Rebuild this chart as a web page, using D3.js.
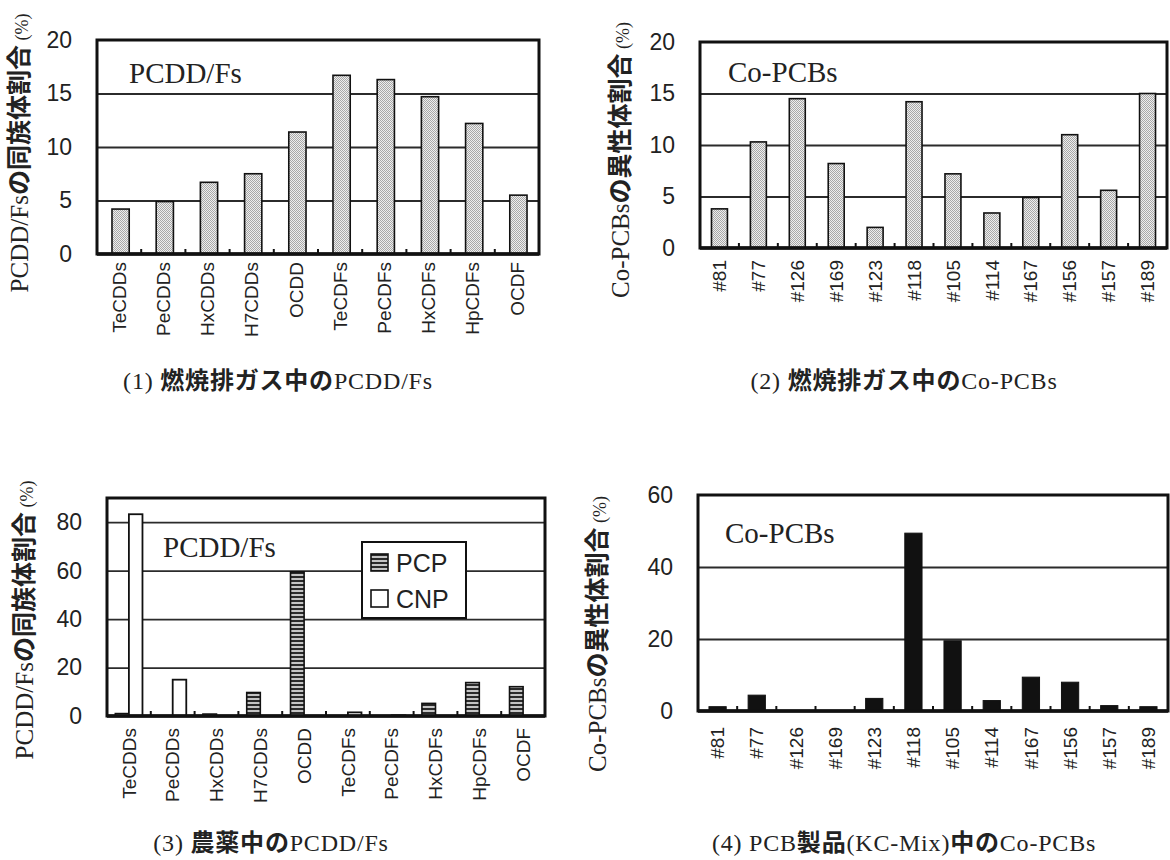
<!DOCTYPE html>
<html>
<head>
<meta charset="utf-8">
<script src="https://cdn.jsdelivr.net/npm/d3@7/dist/d3.min.js"></script>
<style>
  html, body { margin: 0; padding: 0; background: #fff; }
  svg { display: block; }
</style>
</head>
<body>
<svg id="fig" width="1170" height="860"></svg>
<script>
// ---- data -------------------------------------------------------------
const dfCategories  = ["TeCDDs", "PeCDDs", "HxCDDs", "H7CDDs", "OCDD", "TeCDFs", "PeCDFs", "HxCDFs", "HpCDFs", "OCDF"];
const pcbCategories = ["#81", "#77", "#126", "#169", "#123", "#118", "#105", "#114", "#167", "#156", "#157", "#189"];

// (1) flue gas, PCDD/Fs homologue share (%)
const flueGasDF  = [4.2, 4.9, 6.7, 7.5, 11.4, 16.7, 16.3, 14.7, 12.2, 5.5];
// (2) flue gas, Co-PCBs isomer share (%)
const flueGasPCB = [3.8, 10.3, 14.5, 8.2, 2.0, 14.2, 7.2, 3.4, 4.9, 11.0, 5.6, 15.0];
// (3) pesticides, PCDD/Fs homologue share (%)
const pesticidePCP = [1.0, 0, 0.8, 9.7, 59.5, 0, 0, 5.2, 13.8, 12.1];
const pesticideCNP = [83.3, 15.0, 0, 0, 0, 1.5, 0.3, 0, 0, 0];
// (4) PCB products (KC-Mix), Co-PCBs isomer share (%)
const kcMixPCB = [1.2, 4.4, 0, 0, 3.5, 49.4, 19.5, 2.9, 9.4, 8.0, 1.5, 1.2];

const ticks20 = [0, 5, 10, 15, 20];
const ticks80 = [0, 20, 40, 60, 80];
const ticks60 = [0, 20, 40, 60];

// ---- drawing ----------------------------------------------------------
const svg = d3.select("#fig");
const SERIF = "'Liberation Serif', 'Times New Roman', 'Noto Sans CJK JP', serif";
const SANS  = "'Liberation Sans', Arial, sans-serif";
const NARROW = "'Liberation Sans Narrow', 'Arial Narrow', 'Liberation Sans', sans-serif";

const defs = svg.append("defs");
// fine grey stipple used for the flue-gas bars
const stip = defs.append("pattern").attr("id", "stipple")
  .attr("width", 2).attr("height", 2).attr("patternUnits", "userSpaceOnUse");
stip.append("rect").attr("width", 2).attr("height", 2).attr("fill", "#eeeeee");
stip.append("rect").attr("width", 1).attr("height", 1).attr("fill", "#a8a8a8");
stip.append("rect").attr("x", 1).attr("y", 1).attr("width", 1).attr("height", 1).attr("fill", "#a8a8a8");
// horizontal stripes for PCP
const stripe = defs.append("pattern").attr("id", "stripes")
  .attr("width", 4).attr("height", 4).attr("patternUnits", "userSpaceOnUse");
stripe.append("rect").attr("width", 4).attr("height", 4).attr("fill", "#c4c4c4");
stripe.append("rect").attr("width", 4).attr("height", 2).attr("fill", "#2a2a2a");

// write mixed Latin / Japanese text: Japanese runs in bold gothic
function mixedText(sel, str, size, spacing) {
  const parts = str.match(/[\u3000-\u30ff\u4e00-\u9fff]+|[^\u3000-\u30ff\u4e00-\u9fff]+/g);
  parts.forEach(t => {
    const cjk = /[\u3000-\u30ff\u4e00-\u9fff]/.test(t);
    sel.append("tspan")
      .attr("font-family", cjk ? "'Noto Sans CJK JP', sans-serif" : SERIF)
      .attr("font-weight", cjk ? 700 : 400)
      .attr("font-size", size)
      .attr("letter-spacing", spacing || 0)
      .text(t);
  });
}

function drawPanel(p) {
  const g = svg.append("g");
  const x = d3.scaleBand().domain(p.categories).range([p.left, p.right]);
  const y = d3.scaleLinear().domain([0, p.max]).range([p.bottom, p.top]);
  const w = p.right - p.left;

  // horizontal gridlines
  const grid = g.append("g")
    .attr("transform", `translate(${p.left},0)`)
    .call(d3.axisLeft(y).tickValues(p.grid).tickSize(-w).tickFormat(""));
  grid.select(".domain").remove();
  grid.selectAll("line").attr("stroke", "#2b2b2b").attr("stroke-width", 1.8);

  // bars
  const groupW = x.bandwidth() * p.groupFrac;
  const inner = d3.scaleBand().domain(p.series.map(s => s.key)).range([0, groupW]);
  p.series.forEach(s => {
    g.append("g").selectAll("rect")
      .data(p.categories.map((c, i) => ({ c, v: s.values[i] })).filter(d => d.v > 0))
      .join("rect")
      .attr("x", d => x(d.c) + (x.bandwidth() - groupW) / 2 + inner(s.key) + p.shift)
      .attr("y", d => y(d.v))
      .attr("width", inner.bandwidth())
      .attr("height", d => y(0) - y(d.v))
      .attr("fill", s.fill)
      .attr("stroke", "#111")
      .attr("stroke-width", s.stroke);
  });

  // small inside tick marks at the category boundaries
  g.append("g").selectAll("line")
    .data(p.categories.slice(1))
    .join("line")
    .attr("x1", d => x(d)).attr("x2", d => x(d))
    .attr("y1", y(0)).attr("y2", y(0) - 5)
    .attr("stroke", "#111").attr("stroke-width", 2);

  // plot frame and heavy baseline
  g.append("rect")
    .attr("x", p.left).attr("y", p.top)
    .attr("width", w).attr("height", p.bottom - p.top)
    .attr("fill", "none").attr("stroke", "#111").attr("stroke-width", 3);
  g.append("line")
    .attr("x1", p.left).attr("x2", p.right)
    .attr("y1", y(0)).attr("y2", y(0))
    .attr("stroke", "#111").attr("stroke-width", 3.5);

  // value axis labels
  const ya = g.append("g")
    .attr("transform", `translate(${p.left},0)`)
    .call(d3.axisLeft(y).tickValues(p.ticks).tickSize(0).tickPadding(25).tickFormat(d3.format("d")));
  ya.select(".domain").remove();
  ya.selectAll("text")
    .attr("font-family", NARROW).attr("font-size", 23).attr("fill", "#222");

  // category labels, rotated
  const xa = g.append("g")
    .attr("transform", `translate(0,${y(0)})`)
    .call(d3.axisBottom(x).tickSize(0).tickPadding(0));
  xa.select(".domain").remove();
  xa.selectAll("text")
    .attr("font-family", SANS).attr("font-size", 19).attr("fill", "#222")
    .attr("text-anchor", "end")
    .attr("transform", "rotate(-90)")
    .attr("x", -p.labelGap).attr("y", 0).attr("dy", "0.35em");

  // in-plot heading
  g.append("text")
    .attr("x", p.headX).attr("y", p.headY)
    .attr("font-family", SERIF).attr("font-size", 29).attr("fill", "#222")
    .text(p.heading);

  // value axis title
  const yt = g.append("text")
    .attr("transform", `translate(${p.yTitleX},${p.yTitleY}) rotate(-90)`)
    .attr("text-anchor", "middle").attr("dy", "0.35em").attr("fill", "#222");
  mixedText(yt, p.yTitle, 25);
  yt.append("tspan").attr("font-family", SERIF).attr("font-size", 18).text(" (%)");

  // caption below the panel
  const cap = g.append("text")
    .attr("x", p.capX).attr("y", p.capY)
    .attr("text-anchor", "middle").attr("dy", "0.35em").attr("fill", "#222");
  mixedText(cap, p.caption, 24, 0.8);

  if (p.legend) {
    const L = p.legend;
    const lg = g.append("g").attr("transform", `translate(${L.x},${L.y})`);
    lg.append("rect").attr("width", L.w).attr("height", L.h)
      .attr("fill", "#fff").attr("stroke", "#111").attr("stroke-width", 2);
    p.series.forEach((s, i) => {
      const row = lg.append("g").attr("transform", `translate(9,${12 + i * 36})`);
      row.append("rect").attr("width", 17).attr("height", 17)
        .attr("fill", s.fill).attr("stroke", "#111").attr("stroke-width", 1.6);
      row.append("text").attr("x", 25).attr("y", 9).attr("dy", "0.36em")
        .attr("font-family", NARROW).attr("font-size", 25).attr("fill", "#222")
        .text(s.key);
    });
  }
}

drawPanel({
  categories: dfCategories, max: 20, ticks: ticks20, grid: [5, 10, 15],
  left: 97, right: 539, top: 40, bottom: 254, groupFrac: 0.39, shift: 1.5,
  series: [{ key: "flue", values: flueGasDF, fill: "url(#stipple)", stroke: 1.6 }],
  labelGap: 8, heading: "PCDD/Fs", headX: 129, headY: 83,
  yTitle: "PCDD/Fsの同族体割合", yTitleX: 22, yTitleY: 153,
  caption: "(1) 燃焼排ガス中のPCDD/Fs", capX: 278, capY: 383
});

drawPanel({
  categories: pcbCategories, max: 20, ticks: ticks20, grid: [5, 10, 15],
  left: 700, right: 1167, top: 42, bottom: 248, groupFrac: 0.41, shift: 0,
  series: [{ key: "flue", values: flueGasPCB, fill: "url(#stipple)", stroke: 1.6 }],
  labelGap: 12, heading: "Co-PCBs", headX: 728, headY: 82,
  yTitle: "Co-PCBsの異性体割合", yTitleX: 623, yTitleY: 160,
  caption: "(2) 燃焼排ガス中のCo-PCBs", capX: 904, capY: 383
});

drawPanel({
  categories: dfCategories, max: 90, ticks: ticks80, grid: [20, 40, 60, 80],
  left: 107, right: 545, top: 498, bottom: 716, groupFrac: 0.62, shift: 0,
  series: [
    { key: "PCP", values: pesticidePCP, fill: "url(#stripes)", stroke: 1.6 },
    { key: "CNP", values: pesticideCNP, fill: "#ffffff", stroke: 1.8 }
  ],
  legend: { x: 362, y: 542, w: 104, h: 76 },
  labelGap: 12, heading: "PCDD/Fs", headX: 163, headY: 557,
  yTitle: "PCDD/Fsの同族体割合", yTitleX: 27, yTitleY: 620,
  caption: "(3) 農薬中のPCDD/Fs", capX: 271, capY: 845
});

drawPanel({
  categories: pcbCategories, max: 60, ticks: ticks60, grid: [20, 40],
  left: 698, right: 1168, top: 495, bottom: 711, groupFrac: 0.44, shift: 0,
  series: [{ key: "KC", values: kcMixPCB, fill: "#111111", stroke: 1 }],
  labelGap: 16, heading: "Co-PCBs", headX: 725, headY: 543,
  yTitle: "Co-PCBsの異性体割合", yTitleX: 600, yTitleY: 634,
  caption: "(4) PCB製品(KC-Mix)中のCo-PCBs", capX: 904, capY: 845
});
</script>
</body>
</html>
